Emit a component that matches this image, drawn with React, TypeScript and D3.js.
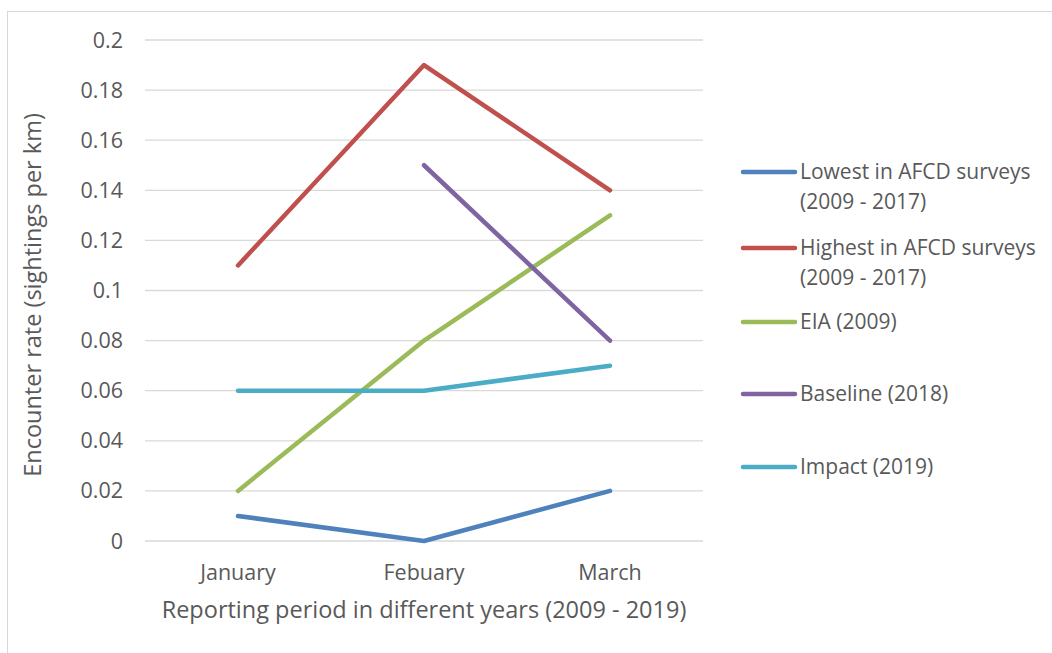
import { useEffect } from "react";
import * as d3 from "d3";

const months = ["January", "Febuary", "March"];
const yTicks = [0, 0.02, 0.04, 0.06, 0.08, 0.1, 0.12, 0.14, 0.16, 0.18, 0.2];

const lowest = [0.01, 0, 0.02];
const highest = [0.11, 0.19, 0.14];
const eia = [0.02, 0.08, 0.13];
const baseline = [null, 0.15, 0.08];
const impact = [0.06, 0.06, 0.07];

const series = [
  { name: ["Lowest in AFCD surveys", "(2009 - 2017)"], values: lowest, color: "#4F81BD" },
  { name: ["Highest in AFCD surveys", "(2009 - 2017)"], values: highest, color: "#C0504D" },
  { name: ["EIA (2009)"], values: eia, color: "#9BBB59" },
  { name: ["Baseline (2018)"], values: baseline, color: "#8064A2" },
  { name: ["Impact (2019)"], values: impact, color: "#4BACC6" },
];

const legendY = [172, 248, 322, 394, 467];

const W = 1052;
const H = 653;
const FONT = "'Open Sans', sans-serif";
const TEXT = "#595959";

export default function App() {
  useEffect(() => {
    document.body.style.margin = "0";
  }, []);

  const x = d3.scaleBand().domain(months).range([145, 703]);
  const y = d3.scaleLinear().domain([0, 0.2]).range([541, 40]);
  const cx = (m: string) => (x(m) ?? 0) + x.bandwidth() / 2;

  const line = d3
    .line<number | null>()
    .defined((d) => d !== null)
    .x((_, i) => cx(months[i]))
    .y((d) => y(d as number));

  return (
    <svg width={W} height={H} style={{ display: "block", background: "#fff" }}>
      <rect x={7.5} y={11.5} width={W + 10} height={H + 10} fill="#fff" stroke="#d9d9d9" />

      {yTicks.map((t) => (
        <g key={t}>
          <line x1={145} x2={703} y1={y(t)} y2={y(t)} stroke="#d9d9d9" strokeWidth={1.3} />
          <text
            x={123}
            y={y(t)}
            dy="0.35em"
            textAnchor="end"
            fontFamily={FONT}
            fontSize={21.5}
            fill={TEXT}
          >
            {d3.format("~g")(t)}
          </text>
        </g>
      ))}

      {months.map((m) => (
        <text
          key={m}
          x={cx(m)}
          y={572}
          dy="0.35em"
          textAnchor="middle"
          fontFamily={FONT}
          fontSize={21.5}
          fill={TEXT}
        >
          {m}
        </text>
      ))}

      <text
        x={424}
        y={610}
        dy="0.35em"
        textAnchor="middle"
        fontFamily={FONT}
        fontSize={23.5}
        fill={TEXT}
      >
        Reporting period in different years (2009 - 2019)
      </text>

      <text
        transform="translate(33,295) rotate(-90)"
        dy="0.35em"
        textAnchor="middle"
        fontFamily={FONT}
        fontSize={23.5}
        fill={TEXT}
      >
        Encounter rate (sightings per km)
      </text>

      {series.map((s) => (
        <path
          key={s.color}
          d={line(s.values) ?? ""}
          fill="none"
          stroke={s.color}
          strokeWidth={4.5}
          strokeLinecap="round"
          strokeLinejoin="round"
        />
      ))}

      {series.map((s, i) => (
        <g key={"lg" + s.color}>
          <line
            x1={743}
            x2={795}
            y1={legendY[i]}
            y2={legendY[i]}
            stroke={s.color}
            strokeWidth={4.5}
            strokeLinecap="round"
          />
          {s.name.map((n, j) => (
            <text
              key={n}
              x={800}
              y={legendY[i] + j * 30}
              dy="0.35em"
              fontFamily={FONT}
              fontSize={21}
              fill={TEXT}
            >
              {n}
            </text>
          ))}
        </g>
      ))}
    </svg>
  );
}
